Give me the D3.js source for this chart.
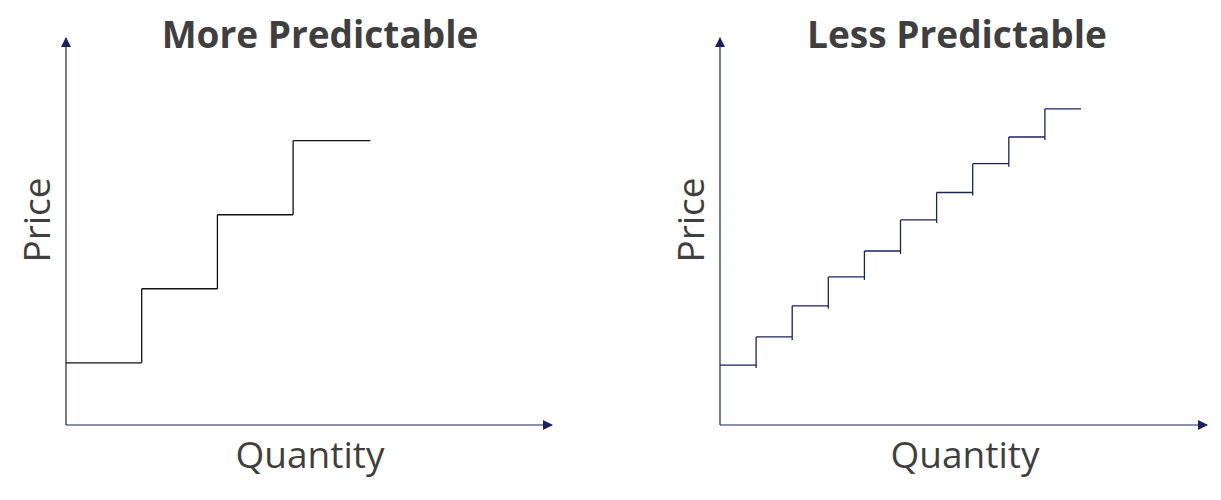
<!DOCTYPE html>
<html><head><meta charset="utf-8">
<script src="https://cdn.jsdelivr.net/npm/d3@7"></script>
<style>body{margin:0;background:#fff}</style>
</head><body><div id="chart"></div>
<script>
const titles = ["More Predictable", "Less Predictable"];
// step start positions (in quantity units) and price levels
const leftSteps = [0, 1, 2, 3];
const leftPrices = [0.84, 1.84, 2.84, 3.84];
const leftEnd = 4.02;
const rightSteps = [0, 1, 2, 3, 4, 5, 6, 7, 8, 9];
const rightPrices = [0.81, 1.19, 1.61, 2.0, 2.35, 2.77, 3.14, 3.53, 3.89, 4.27];
const rightEnd = 10;

const W = 1221, H = 500;
const svg = d3.select("#chart").append("svg").attr("width", W).attr("height", H);
const navy = "#1b2160";

svg.append("defs").append("marker")
  .attr("id", "arr").attr("viewBox", "0 0 10 10").attr("refX", 9).attr("refY", 5)
  .attr("markerWidth", 10).attr("markerHeight", 10).attr("markerUnits", "userSpaceOnUse")
  .attr("orient", "auto")
  .append("path").attr("d", "M0,0L10,5L0,10z").attr("fill", navy);

const y = d3.scaleLinear().domain([0, 5.2]).range([425, 40]);

const panels = [
  { x0: 66, x1: 552, domain: 6.42, steps: leftSteps, prices: leftPrices, end: leftEnd, color: "#111", tick: 0 },
  { x0: 720, x1: 1207, domain: 13.49, steps: rightSteps, prices: rightPrices, end: rightEnd, color: navy, tick: 3 }
];

panels.forEach((p, i) => {
  const x = d3.scaleLinear().domain([0, p.domain]).range([p.x0, p.x1]);
  const g = svg.append("g");
  g.append("line").attr("x1", p.x0).attr("y1", 425).attr("x2", p.x0).attr("y2", 38)
    .attr("stroke", navy).attr("stroke-width", 1.2).attr("marker-end", "url(#arr)");
  g.append("line").attr("x1", p.x0).attr("y1", 425).attr("x2", p.x1).attr("y2", 425)
    .attr("stroke", navy).attr("stroke-width", 1.2).attr("marker-end", "url(#arr)");

  p.steps.forEach((s, k) => {
    const next = k + 1 < p.steps.length ? p.steps[k + 1] : p.end;
    g.append("line").attr("x1", x(s)).attr("x2", x(next))
      .attr("y1", y(p.prices[k])).attr("y2", y(p.prices[k]))
      .attr("stroke", p.color).attr("stroke-width", 1.3);
    if (k > 0) {
      g.append("line").attr("x1", x(s)).attr("x2", x(s))
        .attr("y1", y(p.prices[k - 1]) + p.tick).attr("y2", y(p.prices[k]))
        .attr("stroke", p.color).attr("stroke-width", 1.3);
    }
  });

  g.append("text").attr("x", i === 0 ? 320 : 957).attr("y", 48).attr("text-anchor", "middle")
    .attr("font-family", "Open Sans").attr("font-weight", 700).attr("font-size", 37)
    .attr("fill", "#3f3f3f").text(titles[i]);
  g.append("text").attr("x", i === 0 ? 310 : 965).attr("y", 468).attr("text-anchor", "middle")
    .attr("font-family", "Open Sans").attr("font-size", 37)
    .attr("fill", "#3f3f3f").text("Quantity");
  g.append("text").attr("transform", `translate(${p.x0 - 16},220) rotate(-90)`)
    .attr("text-anchor", "middle")
    .attr("font-family", "Open Sans").attr("font-size", 37)
    .attr("fill", "#3f3f3f").text("Price");
});
</script></body></html>
